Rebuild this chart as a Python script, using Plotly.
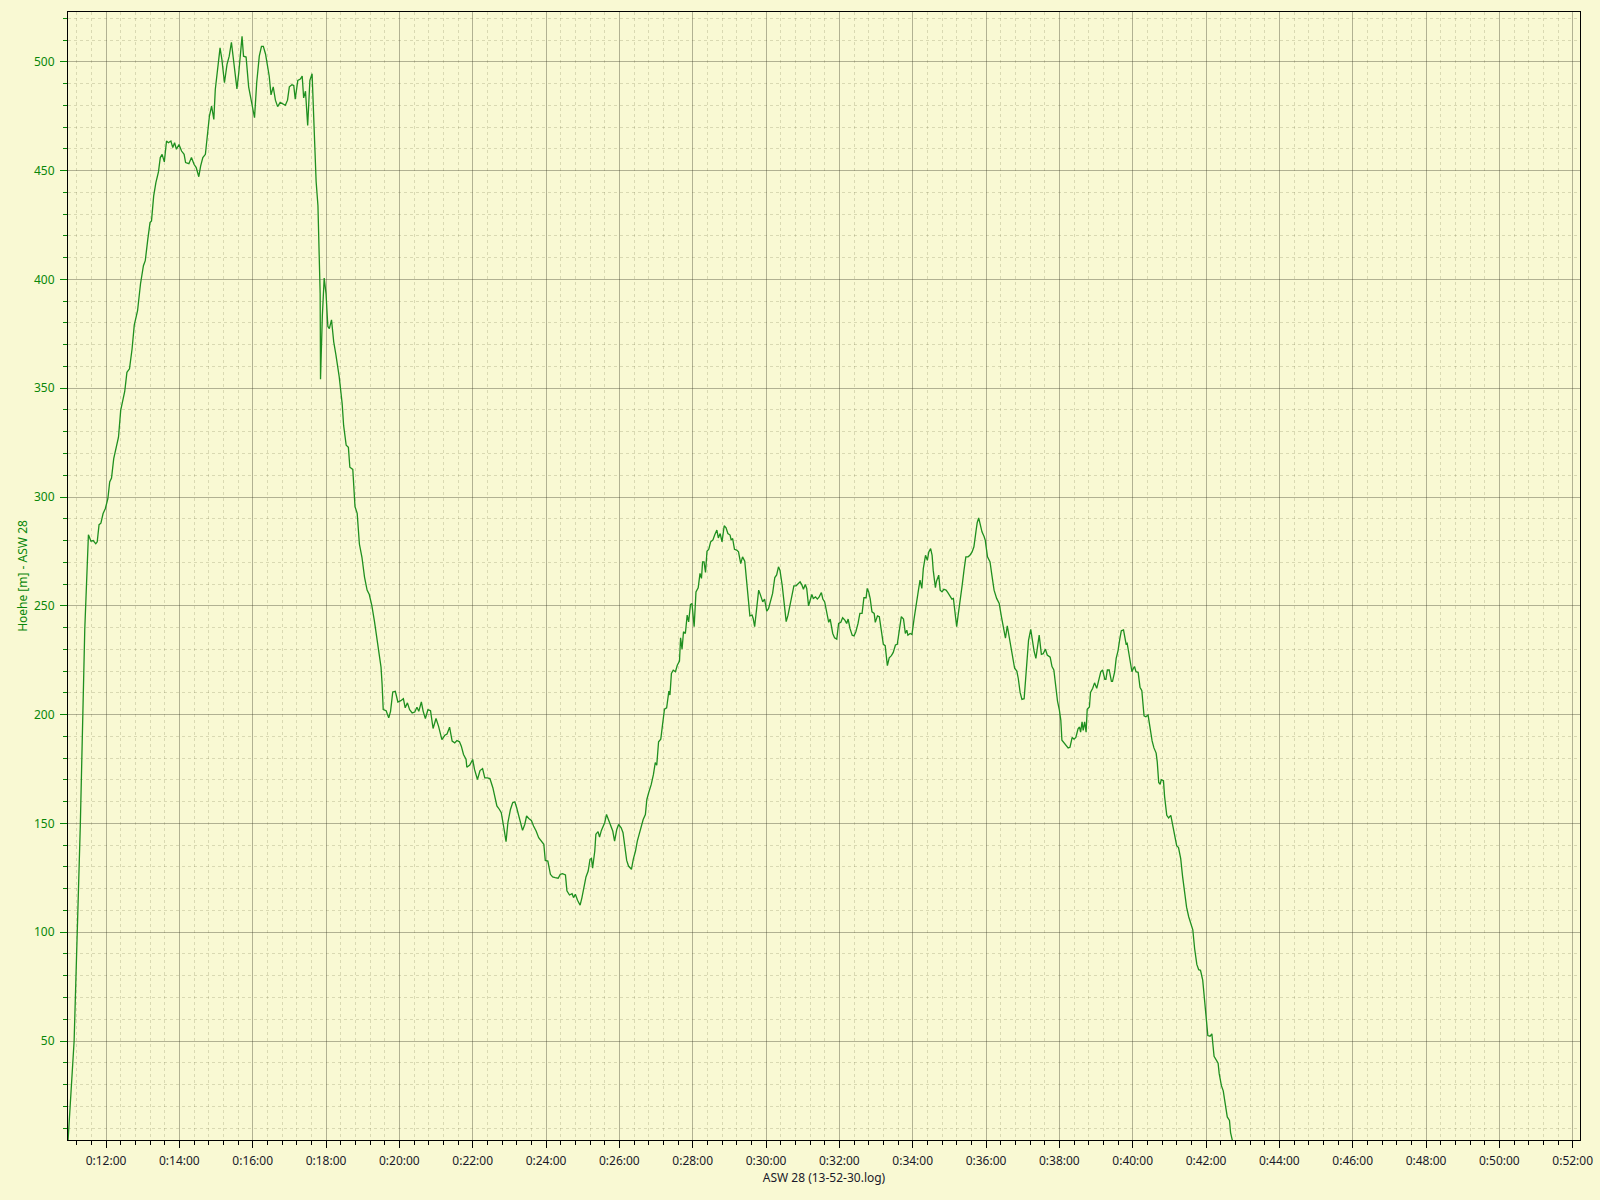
import pandas as pd
import plotly.graph_objects as go

# Time since start (minutes) and altitude (m)
minutes = [
    10.96, 11.13, 11.30, 11.42, 11.52, 11.59, 11.65, 11.72, 11.76, 11.81, 11.86, 11.92, 11.98,
    12.05, 12.10, 12.15, 12.21, 12.28, 12.34, 12.40, 12.44, 12.51, 12.57, 12.64, 12.71, 12.77,
    12.86, 12.94, 13.02, 13.07, 13.14, 13.20, 13.24, 13.30, 13.36, 13.43, 13.48, 13.53, 13.59,
    13.65, 13.70, 13.77, 13.82, 13.87, 13.92, 13.99, 14.06, 14.13, 14.17, 14.26, 14.33, 14.40,
    14.46, 14.53, 14.58, 14.64, 14.71, 14.76, 14.82, 14.88, 14.94, 14.98, 15.04, 15.11, 15.16,
    15.23, 15.30, 15.36, 15.42, 15.49, 15.57, 15.62, 15.67, 15.71, 15.75, 15.82, 15.89, 15.98,
    16.05, 16.11, 16.18, 16.24, 16.29, 16.35, 16.40, 16.45, 16.50, 16.56, 16.62, 16.68, 16.75,
    16.82, 16.89, 16.95, 17.00, 17.07, 17.12, 17.16, 17.23, 17.30, 17.35, 17.39, 17.44, 17.50,
    17.56, 17.62, 17.68, 17.73, 17.78, 17.81, 17.84, 17.85, 17.90, 17.95, 18.00, 18.05, 18.09,
    18.15, 18.21, 18.27, 18.36, 18.44, 18.48, 18.55, 18.61, 18.65, 18.73, 18.79, 18.85, 18.91,
    18.98, 19.05, 19.12, 19.18, 19.25, 19.32, 19.38, 19.44, 19.50, 19.53, 19.56, 19.64, 19.71,
    19.76, 19.82, 19.89, 19.96, 20.04, 20.11, 20.16, 20.22, 20.28, 20.35, 20.42, 20.48, 20.53,
    20.60, 20.65, 20.71, 20.78, 20.85, 20.92, 21.00, 21.07, 21.16, 21.24, 21.30, 21.37, 21.44,
    21.51, 21.57, 21.64, 21.69, 21.75, 21.82, 21.84, 21.92, 22.00, 22.05, 22.13, 22.20, 22.27,
    22.33, 22.40, 22.47, 22.55, 22.60, 22.66, 22.73, 22.78, 22.85, 22.91, 22.96, 23.03, 23.09,
    23.15, 23.20, 23.25, 23.31, 23.36, 23.42, 23.47, 23.53, 23.60, 23.66, 23.73, 23.80, 23.87,
    23.94, 23.98, 24.05, 24.12, 24.18, 24.25, 24.33, 24.39, 24.45, 24.53, 24.57, 24.64, 24.71,
    24.75, 24.80, 24.86, 24.93, 24.98, 25.04, 25.09, 25.15, 25.20, 25.24, 25.27, 25.33, 25.36,
    25.42, 25.46, 25.51, 25.55, 25.60, 25.65, 25.71, 25.76, 25.82, 25.87, 25.93, 25.98, 26.05,
    26.10, 26.15, 26.20, 26.25, 26.33, 26.38, 26.44, 26.49, 26.55, 26.60, 26.65, 26.71, 26.75,
    26.80, 26.87, 26.93, 26.98, 27.02, 27.07, 27.13, 27.18, 27.23, 27.29, 27.35, 27.38, 27.42,
    27.47, 27.53, 27.58, 27.64, 27.67, 27.71, 27.75, 27.80, 27.85, 27.89, 27.94, 27.98, 28.04,
    28.09, 28.15, 28.20, 28.24, 28.27, 28.31, 28.35, 28.39, 28.44, 28.49, 28.55, 28.60, 28.66,
    28.70, 28.75, 28.80, 28.86, 28.91, 28.96, 29.02, 29.05, 29.09, 29.14, 29.20, 29.25, 29.31,
    29.36, 29.42, 29.47, 29.53, 29.56, 29.62, 29.65, 29.69, 29.75, 29.80, 29.85, 29.91, 29.96,
    30.02, 30.07, 30.13, 30.18, 30.24, 30.29, 30.34, 30.38, 30.44, 30.49, 30.55, 30.60, 30.65,
    30.71, 30.76, 30.82, 30.87, 30.93, 30.98, 31.02, 31.07, 31.11, 31.16, 31.20, 31.25, 31.29,
    31.35, 31.40, 31.45, 31.51, 31.55, 31.60, 31.65, 31.71, 31.75, 31.78, 31.82, 31.87, 31.93,
    31.98, 32.04, 32.09, 32.15, 32.20, 32.24, 32.29, 32.35, 32.40, 32.45, 32.51, 32.56, 32.62,
    32.67, 32.73, 32.76, 32.80, 32.84, 32.89, 32.95, 32.98, 33.04, 33.09, 33.15, 33.20, 33.25,
    33.31, 33.36, 33.42, 33.47, 33.53, 33.58, 33.64, 33.69, 33.75, 33.80, 33.84, 33.87, 33.93,
    33.98, 34.04, 34.09, 34.15, 34.20, 34.25, 34.29, 34.35, 34.40, 34.44, 34.49, 34.53, 34.56,
    34.62, 34.65, 34.71, 34.75, 34.80, 34.85, 34.91, 34.96, 35.02, 35.07, 35.11, 35.15, 35.20,
    35.24, 35.29, 35.35, 35.40, 35.45, 35.51, 35.56, 35.62, 35.67, 35.73, 35.76, 35.80, 35.84,
    35.89, 35.95, 35.98, 36.04, 36.11, 36.16, 36.22, 36.29, 36.36, 36.42, 36.47, 36.53, 36.58,
    36.62, 36.67, 36.73, 36.78, 36.84, 36.88, 36.93, 36.98, 37.04, 37.07, 37.11, 37.16, 37.22,
    37.25, 37.31, 37.36, 37.41, 37.45, 37.51, 37.56, 37.62, 37.67, 37.75, 37.80, 37.85, 37.89,
    37.95, 38.00, 38.04, 38.07, 38.13, 38.18, 38.24, 38.29, 38.35, 38.40, 38.45, 38.51, 38.55,
    38.58, 38.62, 38.65, 38.69, 38.73, 38.76, 38.82, 38.85, 38.91, 38.96, 39.02, 39.07, 39.13,
    39.18, 39.24, 39.27, 39.31, 39.36, 39.42, 39.45, 39.51, 39.55, 39.60, 39.65, 39.69, 39.75,
    39.78, 39.82, 39.85, 39.89, 39.93, 39.98, 40.02, 40.05, 40.09, 40.15, 40.20, 40.25, 40.31,
    40.36, 40.42, 40.47, 40.53, 40.58, 40.64, 40.67, 40.71, 40.75, 40.78, 40.84, 40.87, 40.93,
    40.98, 41.04, 41.09, 41.15, 41.20, 41.25, 41.31, 41.36, 41.42, 41.47, 41.53, 41.58, 41.64,
    41.69, 41.75, 41.80, 41.85, 41.91, 41.95, 42.00, 42.05, 42.11, 42.16, 42.22, 42.27, 42.33,
    42.36, 42.42, 42.47, 42.53, 42.58, 42.64, 42.67, 42.73,
]

altitude = [
    3, 50, 150, 239, 282.7, 279.7, 280, 278.5, 279.4, 287.3, 288, 292.4, 294.6,
    299.2, 306.9, 308.7, 317.6, 322.2, 327.5, 339.8, 343.6, 348.5, 357.3, 358.9, 368, 379,
    385.6, 397.9, 406.3, 408.6, 418.5, 426.1, 426.9, 438.4, 444.5, 449.4, 456, 457.5, 454,
    463.6, 462.8, 463.6, 460.6, 462.8, 459.8, 462, 459, 457.5, 453.7, 453.2, 456, 452.9,
    451.4, 447.2, 452.1, 456, 457.5, 466.7, 475.1, 479.7, 473.5, 487.3, 497.2, 506.4, 501.1,
    490.4, 498.8, 502.6, 509, 499.5, 487.6, 494.9, 505, 511.7, 502.6, 502.2, 488.5, 480.4,
    474.3, 490.5, 502.6, 507.1, 507.1, 503.6, 499, 493.5, 484.8, 488.5, 482.4, 479.4, 481.4,
    480.8, 480, 482.4, 488.5, 489.5, 489.1, 482.8, 491.5, 492.1, 493.5, 483.4, 486.5, 470.7,
    491.5, 494.5, 464.2, 445, 433.9, 413.7, 393.5, 354.1, 383.4, 400.6, 393.5, 378.4, 377.4,
    381.4, 371.3, 365.3, 355.2, 343, 332.9, 323.8, 322.8, 313.7, 312.7, 295.6, 292.5, 278.4,
    272.3, 263.2, 257.2, 255.2, 250.1, 243, 236, 227.9, 221.8, 213.8, 202.3, 201.8, 198.5,
    201.5, 210.4, 210.7, 205.8, 206.4, 207.3, 203.1, 205.4, 202.3, 200.8, 201.2, 203.4, 201.5,
    205.8, 201.5, 198.2, 202.3, 201.8, 193.6, 198.2, 194.6, 188.5, 190.5, 191.1, 194.2, 187.8,
    187, 188.1, 187.5, 185.5, 181.7, 179.4, 175.8, 176.8, 179.4, 174.8, 170.2, 174.3, 175.2,
    170.9, 170.9, 170.6, 166.4, 162.5, 158, 156.4, 154.9, 148, 141.6, 150.3, 156.4, 159.5,
    159.9, 157.2, 154.1, 151.1, 146.8, 149.5, 153.4, 152.3, 151.4, 148.8, 146.5, 143.4, 141.9,
    140.4, 133, 132.7, 126.6, 125.4, 125.1, 124.8, 126.6, 126.9, 126.3, 119, 117.1, 117.7,
    115.9, 117.4, 114.7, 112.4, 115.9, 120.5, 125.4, 128.1, 133.5, 133.9, 129.4, 137.3, 145,
    146.2, 143.7, 146.8, 148.8, 150.3, 154.1, 151.4, 149.5, 146.5, 141.9, 147.2, 149.5, 148,
    145.7, 140.4, 133, 130.4, 128.9, 133.5, 137.3, 141.9, 145.7, 149.5, 151.8, 154.1, 161,
    164.1, 167.9, 172.5, 178, 176.8, 187.5, 188.7, 195.2, 202.5, 203.1, 210.8, 209, 218.9,
    220.4, 219.7, 222.7, 224.6, 235.3, 230.1, 238.1, 237.3, 245.7, 242.6, 250.6, 251.1, 240.4,
    256.4, 258.3, 264.9, 262.6, 270.2, 270.2, 265.3, 275.1, 276, 279.4, 280.2, 282.5, 284.8,
    281.2, 283.2, 279.4, 286.8, 285.8, 283.2, 282.5, 280.2, 280.9, 276, 275.6, 274.8, 269.4,
    272.5, 270.5, 261, 251.8, 245.4, 245.7, 244.2, 240.4, 248.8, 257.2, 254.9, 251.8, 253.1,
    247.5, 248.8, 252.6, 255.7, 263, 264.2, 267.9, 266.4, 259.6, 250.3, 242.7, 245.7, 250.3,
    254.9, 259.2, 259.2, 260.2, 261, 259.5, 257.6, 259.8, 258, 250, 252.6, 255.2, 253.4,
    254.1, 253.1, 254.1, 256.1, 253.1, 251.8, 248, 242.4, 243.9, 241.1, 237.3, 235.3, 234.7,
    241.9, 242.4, 244.5, 243.4, 241.9, 243.9, 239.6, 236.5, 236.2, 238.1, 241.9, 246.5, 246.5,
    253.7, 253.7, 258, 256.4, 253.4, 247.2, 246.5, 242.4, 245.4, 245, 238.4, 232.3, 231.7,
    222.5, 226.1, 227.1, 228.6, 232, 232.3, 240.4, 245, 243.9, 237.3, 238.8, 236.5, 237.3,
    236.8, 244.2, 250.6, 256.4, 261.8, 258, 267.1, 273.2, 270.9, 274.8, 276.3, 273.2, 266.4,
    258.3, 261.3, 264.1, 257.2, 256.4, 257.6, 257.2, 256.1, 254.1, 253.1, 253.4, 247.2, 240.4,
    245.7, 253.4, 259.5, 266.4, 272.5, 272.5, 273.2, 274.8, 277.1, 284.7, 288.2, 290.4, 287,
    284, 281.7, 280.1, 272.5, 270.2, 264.1, 257.2, 253.4, 251.1, 245, 240.5, 235.1, 240.8,
    237, 231, 225, 221.3, 220, 216.6, 210.2, 207, 207.3, 215, 224.5, 234.1, 239.2,
    235.7, 229.3, 225.8, 230.9, 236.5, 227.7, 228, 230.1, 227.4, 226.4, 222.1, 220.5, 213.4,
    206.2, 202.2, 197.5, 188.2, 187.1, 186.3, 184.7, 185, 189.5, 188.7, 189.5, 193.5, 194.3,
    191.9, 196.7, 192.7, 196.7, 191.9, 202.5, 203.5, 210.2, 212.1, 214.6, 212.1, 216.2, 219.7,
    220.5, 216.2, 216.2, 220.5, 220.5, 215.3, 215.3, 219.7, 225.8, 229.3, 234.9, 238.5, 238.9,
    236, 232.5, 232.8, 228.5, 222.9, 219.7, 221.3, 222.1, 219.7, 219.4, 212.6, 211, 199.4,
    199, 199.8, 194.3, 187.9, 184.7, 182.3, 178.3, 168.8, 168, 170.1, 169.6, 162.4, 153.7,
    152.5, 153.7, 149.7, 144.9, 139.8, 138.9, 133.8, 125.8, 117.8, 111.5, 107, 104.3, 101.1,
    92.4, 85.2, 82.8, 82.5, 78, 70.1, 62.1, 52.5, 52.2, 53.3, 43, 41.4, 39.8,
    35, 29.5, 27.1, 19.1, 15.1, 13.5, 7.9, 3.5,
]

x_range_min = [10.963, 52.2]
y_range = [4.5, 522.9]

base = pd.Timestamp("2000-01-01 00:00:00")
x_times = [(base + pd.to_timedelta(m, unit="m")).strftime("%Y-%m-%d %H:%M:%S.%f") for m in minutes]
x_rng = [(base + pd.to_timedelta(m, unit="m")).strftime("%Y-%m-%d %H:%M:%S.%f") for m in x_range_min]

GREEN_LINE = "#1f8f1f"
GREEN_TEXT = "#0a870a"
BG = "#F9F9D3"
MAJOR_GRID = "rgba(60,60,40,0.38)"
MINOR_GRID = "rgba(90,90,50,0.2)"
FONT = "Noto Sans"

fig = go.Figure()
fig.add_trace(go.Scatter(
    x=x_times, y=altitude, mode="lines",
    line=dict(color=GREEN_LINE, width=1.3),
    showlegend=False, hoverinfo="skip",
))

fig.update_layout(
    width=1600, height=1200,
    paper_bgcolor=BG, plot_bgcolor=BG,
    margin=dict(l=68, r=20, t=12, b=60, pad=0),
    font=dict(family=FONT, size=12, color="#1a1a2a"),
    showlegend=False,
)

fig.update_xaxes(
    type="date", range=x_rng, automargin=False,
    tick0="2000-01-01 00:00:00", dtick=120000, tickformat="%-H:%M:%S",
    ticks="outside", ticklen=7, tickwidth=1, tickcolor="black",
    tickfont=dict(family=FONT, size=12, color="#1a1a2a"),
    ticklabelstandoff=3,
    showline=True, linecolor="black", linewidth=1, mirror=True,
    showgrid=True, gridcolor=MAJOR_GRID, gridwidth=1,
    zeroline=False,
    minor=dict(dtick=24000, tick0="2000-01-01 00:00:00", ticks="outside", ticklen=4,
               tickcolor="black", showgrid=True, gridcolor=MINOR_GRID, griddash="dot", gridwidth=1),
    title=dict(text="ASW 28 (13-52-30.log)", font=dict(family=FONT, size=12, color="#1a1a2a"), standoff=2),
)

fig.update_yaxes(
    range=y_range, tick0=0, dtick=50, automargin=False,
    ticks="outside", ticklen=7, tickwidth=1, tickcolor=GREEN_TEXT,
    tickfont=dict(family=FONT, size=12, color=GREEN_TEXT),
    ticklabelstandoff=3,
    showline=True, linecolor="black", linewidth=1, mirror=True,
    showgrid=True, gridcolor=MAJOR_GRID, gridwidth=1,
    zeroline=False,
    minor=dict(dtick=10, tick0=0, ticks="outside", ticklen=4, tickcolor=GREEN_TEXT,
               showgrid=True, gridcolor=MINOR_GRID, griddash="dot", gridwidth=1),
    title=dict(text="Hoehe [m] - ASW 28", font=dict(family=FONT, size=12, color=GREEN_TEXT), standoff=3),
)

fig.write_html(
    "out.html",
    config={"displayModeBar": False},
    post_script="document.body.style.margin='0';document.body.style.padding='0';"
                "document.body.style.background='" + BG + "';document.body.style.overflow='hidden';",
)
